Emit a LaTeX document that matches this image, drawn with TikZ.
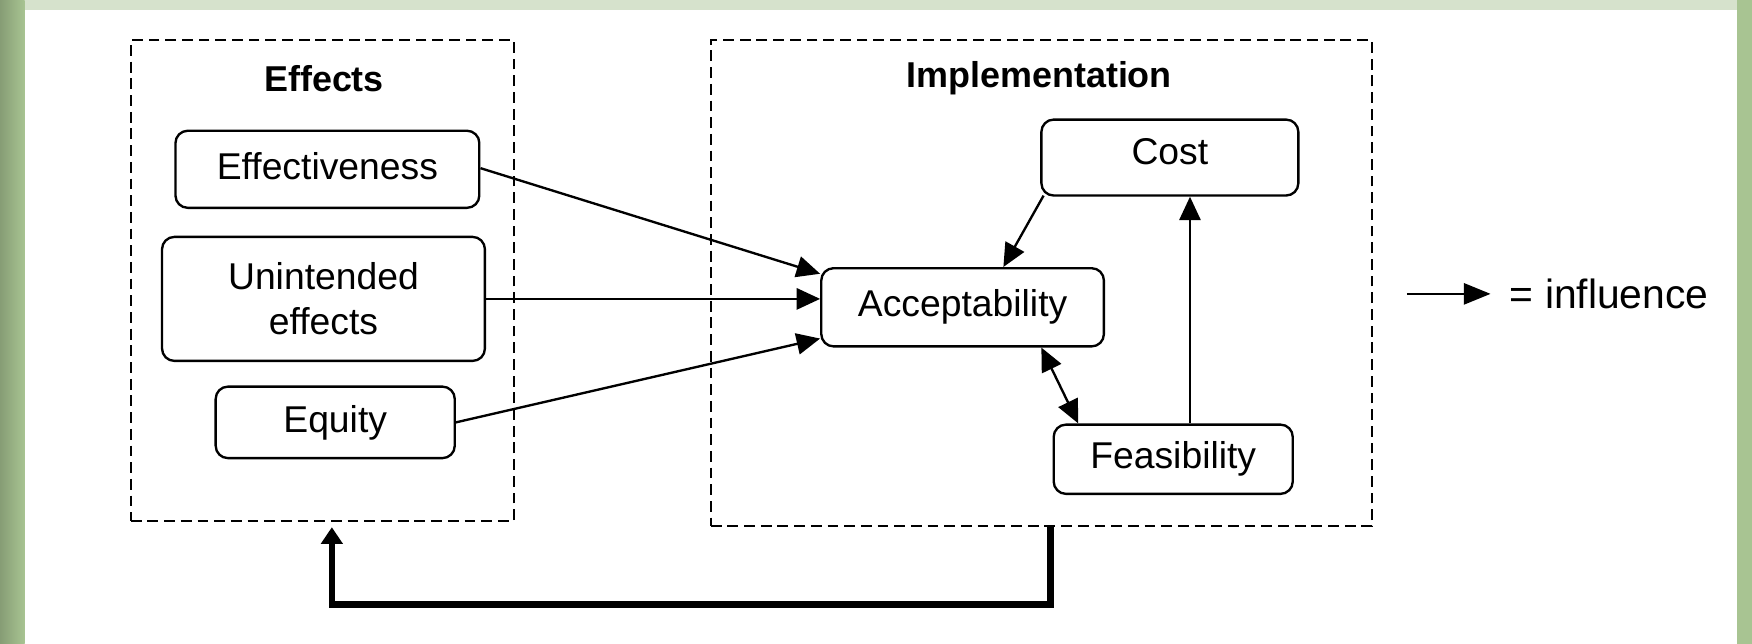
\documentclass[tikz,border=0pt]{standalone}
\usepackage{fontspec}
\setmainfont{Liberation Sans}
\usetikzlibrary{arrows.meta,calc}
\definecolor{bggreen}{RGB}{168,196,146}
\definecolor{bgtop}{RGB}{214,226,204}
\tikzset{
  box/.style={draw, line width=1.2pt, rounded corners=0.22cm, inner sep=0pt, align=center, font=\fontsize{19}{23}\selectfont},
  group/.style={draw, line width=1pt, dash pattern=on 5.5pt off 3pt, inner sep=0pt},
  title/.style={font=\fontsize{18.3}{22}\selectfont\bfseries},
  arr/.style={line width=1.2pt, -{Triangle[length=0.42cm,width=0.38cm]}},
  legarr/.style={line width=1.2pt, -{Triangle[length=0.48cm,width=0.38cm]}},
  darr/.style={line width=1.2pt, {Triangle[length=0.42cm,width=0.38cm]}-{Triangle[length=0.42cm,width=0.38cm]}},
  fb/.style={line width=3.4pt, -{Triangle[length=0.3cm,width=0.38cm]}, shorten >=0.1cm}
}
\begin{document}
\begin{tikzpicture}[x=0.02cm,y=-0.02cm]
\useasboundingbox (0,0) rectangle (1568,576);
% background
\fill[bgtop] (0,0) rectangle (1568,576);
\shade[left color=bggreen!80!black, right color=bggreen] (0,0) rectangle (22,576);
\fill[bggreen] (1555,0) rectangle (1568,576);
\fill[white] (22,9) rectangle (1555,576);
% groups
\node[group, minimum width=6.86cm, minimum height=8.6cm] (effb) at (288.5,251) {};
\node[group, minimum width=11.84cm, minimum height=8.7cm] (impl) at (932,253.5) {};
\node[title] (efft) at (290,70) {Effects};
\node[title] (implt) at (930,70) {Implementation};
% boxes
\node[box, minimum width=5.44cm, minimum height=1.38cm] (eff) at (293,151.5) {\raisebox{3pt}{Effectiveness}};
\node[box, minimum width=5.78cm, minimum height=2.22cm] (unint) at (289.5,267.5) {Unintended\\effects};
\node[box, minimum width=4.28cm, minimum height=1.28cm] (equ) at (300,378) {\raisebox{1pt}{Equity}};
\node[box, minimum width=4.6cm, minimum height=1.36cm] (cost) at (1047,141) {\raisebox{6pt}{Cost}};
\node[box, minimum width=5.06cm, minimum height=1.4cm] (acc) at (861.5,275) {\raisebox{4pt}{Acceptability}};
\node[box, minimum width=4.28cm, minimum height=1.24cm] (feas) at (1050,411) {\raisebox{3pt}{Feasibility}};
% connectors
\draw[arr] ([yshift=0.02cm]eff.east) -- ([yshift=0.6cm]acc.west);
\draw[arr] (unint.east) -- (unint.east -| acc.west);
\draw[arr] (equ.east) -- ([yshift=-0.56cm]acc.west);
\draw[arr] ([xshift=0.06cm,yshift=0.02cm]cost.south west) -- ([xshift=0.73cm]acc.north);
\draw[arr] ([xshift=0.3cm]feas.north) -- ([xshift=0.3cm]feas.north |- cost.south);
\draw[darr] ([xshift=1.41cm]acc.south) -- ([xshift=-1.7cm]feas.north);
\draw[fb] ([xshift=0.16cm]impl.south) -- ++(0,-1.38cm) -| ([xshift=0.17cm]effb.south);
% legend
\coordinate (legs) at (1259,263);
\node[anchor=west, inner sep=0pt, font=\fontsize{20.8}{25}\selectfont] (leg) at (1351,263) {= influence};
\draw[legarr] (legs) -- ([xshift=-0.34cm]leg.west);
\end{tikzpicture}
\end{document}
